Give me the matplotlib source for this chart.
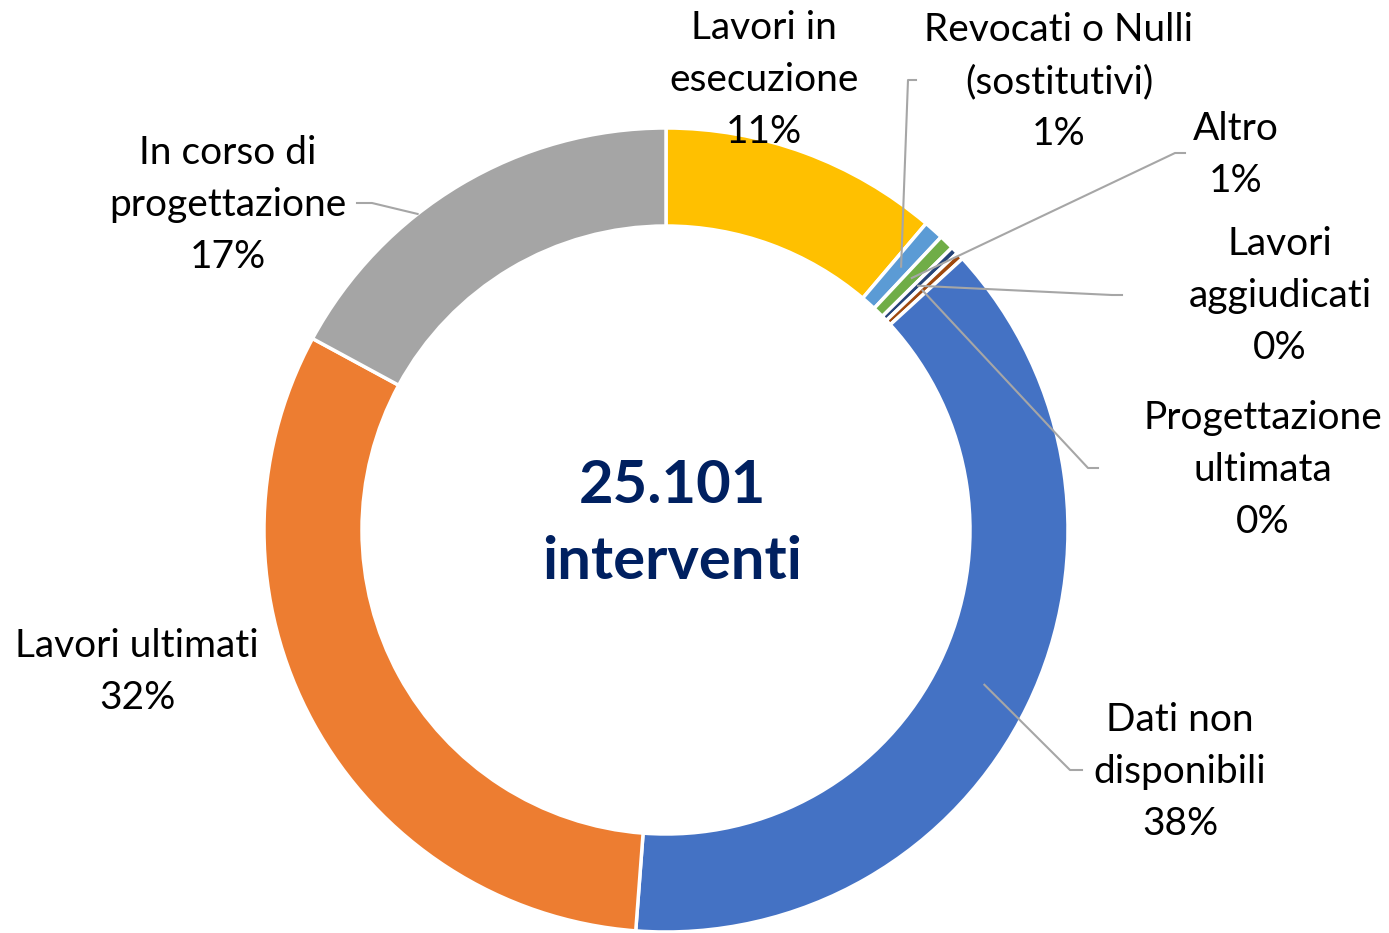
import matplotlib.pyplot as plt
import numpy as np

# Data (percent of 25.101 interventi)
labels = ['Lavori in\nesecuzione', 'Revocati o Nulli\n(sostitutivi)', 'Altro',
          'Lavori\naggiudicati', 'Progettazione\nultimata', 'Dati non\ndisponibili',
          'Lavori ultimati', 'In corso di\nprogettazione']
values = [11.2, 0.8, 0.6, 0.3, 0.3, 38.0, 31.7, 17.1]
pct_labels = ['11%', '1%', '1%', '0%', '0%', '38%', '32%', '17%']
colors = ['#FFC000', '#5B9BD5', '#70AD47', '#264478', '#9E480E', '#4472C4', '#ED7D31', '#A5A5A5']
center_text = '25.101\ninterventi'

# layout (pixel-like coords, y up)
W, H = 1389, 933
cx, cy, R, ring = 666, 403, 402, 98
label_pos = [(764, 853), (1059, 851), (1236, 778), (1280, 637),
             (1263, 463), (1180, 161), (137, 261), (228, 728)]
# leader: (label end x, elbow x, y, anchor radius, position within wedge) or None
leaders = [None, (916, 908, 853, 353, 0.5), (1185, 1175, 780, 352, 0.5),
           (1122, 1112, 638, 351, 0.5), (1098, 1088, 465, 351, 0.5),
           (1082, 1070, 163, 354, 0.5), None, (357, 372, 730, 402, 0.62)]

plt.rcParams['font.family'] = ['Lato', 'DejaVu Sans']

fig = plt.figure(figsize=(W/100, H/100), dpi=100)
ax = fig.add_axes([0, 0, 1, 1])

wedges, _ = ax.pie(values, colors=colors, startangle=90, counterclock=False,
                   center=(cx, cy), radius=R,
                   wedgeprops=dict(width=ring, edgecolor='white', linewidth=2.5))
ax.set_xlim(0, W)
ax.set_ylim(0, H)
ax.set_aspect('equal')
ax.axis('off')

for i, w in enumerate(wedges):
    x, y = label_pos[i]
    ax.text(x, y, labels[i] + '\n' + pct_labels[i], ha='center', va='center',
            fontsize=28, color='#000000', linespacing=1.55)
    if leaders[i] is not None:
        lx, ex, ly, r, f = leaders[i]
        th = np.deg2rad(w.theta1 + f*(w.theta2 - w.theta1))
        axx = cx + r*np.cos(th)
        ayy = cy + r*np.sin(th)
        ax.plot([lx, ex, axx], [ly, ly, ayy], color='#A6A6A6', lw=1.5, zorder=3)

ax.text(cx + 6, cy + 6, center_text, ha='center', va='center', fontsize=43,
        fontweight='bold', color='#002060', linespacing=1.5)

fig.savefig('out.png', dpi=100)
